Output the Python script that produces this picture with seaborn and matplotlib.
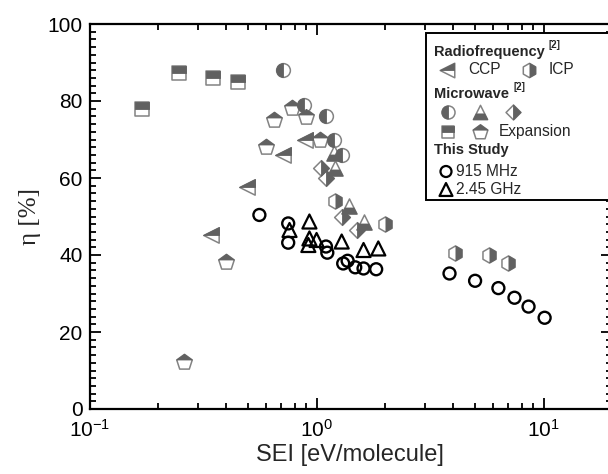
import matplotlib
matplotlib.use("Agg")
import matplotlib.pyplot as plt
from matplotlib.markers import MarkerStyle
from matplotlib.patches import Rectangle
from matplotlib.ticker import MultipleLocator, LogLocator, NullFormatter
import seaborn as sns

# ---- data: SEI [eV/molecule] and energy efficiency eta [%] ----
ccp_sei = [0.343, 0.494, 0.714, 0.89]
ccp_eta = [45.1, 57.6, 66.0, 70.0]

icp_sei = [1.21, 2.0, 4.07, 5.77, 7.0]
icp_eta = [54.0, 48.1, 40.6, 40.0, 38.0]

mw_circle_sei = [0.71, 0.88, 1.10, 1.19, 1.30]
mw_circle_eta = [88.0, 79.0, 76.1, 70.0, 66.0]

mw_tri_sei = [1.19, 1.21, 1.395, 1.61]
mw_tri_eta = [66.4, 62.5, 52.6, 48.7]

mw_diamond_sei = [1.05, 1.10, 1.30, 1.50]
mw_diamond_eta = [62.5, 59.9, 50.0, 46.6]

mw_square_sei = [0.170, 0.249, 0.349, 0.450]
mw_square_eta = [77.9, 87.2, 86.0, 85.0]

exp_sei = [0.26, 0.40, 0.60, 0.65, 0.778, 0.899, 1.04]
exp_eta = [12.1, 38.2, 68.1, 75.0, 78.1, 75.9, 70.0]

f915_sei = [0.56, 0.75, 0.75, 1.10, 1.115, 1.31, 1.37, 1.48, 1.61, 1.83,
            3.85, 4.99, 6.32, 7.44, 8.58, 10.1]
f915_eta = [50.4, 48.2, 43.2, 42.2, 40.6, 37.8, 38.5, 36.8, 36.5, 36.3,
            35.2, 33.3, 31.4, 28.9, 26.6, 23.7]

f245_sei = [0.76, 0.93, 0.93, 0.92, 1.0, 1.29, 1.61, 1.87]
f245_eta = [46.5, 48.7, 44.3, 42.6, 43.9, 43.5, 41.3, 41.7]

x_label = "SEI [eV/molecule]"
y_label = "η [%]"

# ---- style ----
sns.set_theme(style="ticks")
plt.rcParams["font.family"] = ["Liberation Sans", "DejaVu Sans"]

FILL = "#616161"
EDGE = "#838383"
# per-shape marker areas so the shapes read at a similar visual size
SIZES = {"s": 90, "p": 138, "<": 122, "o": 98, "D": 64, "^": 118, "h": 118}
OPEN_O = 74
OPEN_T = 102

W, H = 608, 474
fig = plt.figure(figsize=(W / 100, H / 100), dpi=100)
# axes placed in pixel terms; the right-hand end runs slightly past the canvas
ax_l, ax_r, ax_t, ax_b = 89.5, 612.0, 24.0, 409.0
ax = fig.add_axes([ax_l / W, 1 - ax_b / H, (ax_r - ax_l) / W, (ax_b - ax_t) / H])


def half_filled(x, y, marker, fill, z):
    # white outlined marker underneath, half-filled copy on top
    s = SIZES[marker]
    sns.scatterplot(x=x, y=y, ax=ax, marker=MarkerStyle(marker), s=s,
                    facecolor="white", edgecolor=EDGE, linewidth=1.1, zorder=z)
    sns.scatterplot(x=x, y=y, ax=ax, marker=MarkerStyle(marker, fillstyle=fill),
                    s=s, color=FILL, facecolor=FILL, edgecolor=FILL,
                    linewidth=0.6, zorder=z + 0.5)


half_filled(mw_square_sei, mw_square_eta, "s", "top", 3)
half_filled(exp_sei, exp_eta, "p", "top", 3)
half_filled(ccp_sei, ccp_eta, "<", "top", 3)
half_filled(mw_circle_sei, mw_circle_eta, "o", "left", 3)
half_filled(mw_diamond_sei, mw_diamond_eta, "D", "right", 3)
half_filled(mw_tri_sei, mw_tri_eta, "^", "bottom", 3)
half_filled(icp_sei, icp_eta, "h", "right", 3)

sns.scatterplot(x=f915_sei, y=f915_eta, ax=ax, marker="o", s=OPEN_O,
                facecolor="none", edgecolor="black", linewidth=1.7, zorder=5)
sns.scatterplot(x=f245_sei, y=f245_eta, ax=ax, marker="^", s=OPEN_T,
                facecolor="none", edgecolor="black", linewidth=1.6, zorder=5)

# ---- axes ----
ax.set_xscale("log")
ax.set_xlim(0.1, 20)
ax.set_ylim(0, 100)
ax.yaxis.set_major_locator(MultipleLocator(20))
ax.yaxis.set_minor_locator(MultipleLocator(2))
ax.xaxis.set_major_locator(LogLocator(base=10))
ax.xaxis.set_minor_locator(LogLocator(base=10, subs=range(2, 10)))
ax.xaxis.set_minor_formatter(NullFormatter())
ax.tick_params(which="both", direction="in", top=True, right=True,
               width=1.3, colors="black", labelsize=15)
ax.tick_params(axis="y", pad=5)
ax.tick_params(axis="x", pad=7)
ax.tick_params(which="major", length=8)
ax.tick_params(which="minor", length=4.5)
for sp in ax.spines.values():
    sp.set_linewidth(1.6)
    sp.set_color("black")

ax.set_xlabel(x_label, fontsize=17)
ax.set_ylabel(y_label, fontsize=18, family=["Liberation Serif", "DejaVu Serif"])
ax.xaxis.set_label_coords((350 - ax_l) / (ax_r - ax_l), (ax_b - 444) / (ax_b - ax_t))
ax.yaxis.set_label_coords((41 - ax_l) / (ax_r - ax_l), 0.5)


# ---- legend, laid out in pixel positions ----
def P(px, py):
    return px / W, 1 - py / H


ft = fig.transFigure
ax.add_patch(Rectangle(P(426, 200), (640 - 426) / W, (200 - 33) / H,
                       transform=ft, facecolor="white", edgecolor="black",
                       linewidth=1.4, clip_on=False, zorder=10))


def key(px, py, marker, fill=None, open_black=False):
    x, y = P(px, py)
    if open_black:
        ax.scatter([x], [y], marker=marker,
                   s=(OPEN_O if marker == "o" else OPEN_T) * 0.85,
                   facecolor="none", edgecolor="black", linewidth=1.6,
                   transform=ft, clip_on=False, zorder=11)
        return
    s = SIZES[marker] * 0.9
    ax.scatter([x], [y], marker=MarkerStyle(marker), s=s,
               facecolor="white", edgecolor=EDGE, linewidth=1.1,
               transform=ft, clip_on=False, zorder=11)
    ax.scatter([x], [y], marker=MarkerStyle(marker, fillstyle=fill), s=s,
               facecolor=FILL, edgecolor=FILL, linewidth=0.6,
               transform=ft, clip_on=False, zorder=11.5)


def label(px, py, s, bold=False, size=11.2):
    return fig.text(*P(px, py), s, ha="left", va="center", fontsize=size,
                    fontweight="bold" if bold else "normal", zorder=12)


renderer = fig.canvas.get_renderer()


def with_ref(px, py, s):
    # bold heading followed by a small bold reference mark
    t = label(px, py, s, bold=True, size=10.5)
    right = t.get_window_extent(renderer).x1
    fig.text(right / W + 4 / W, 1 - (py - 7) / H, "[2]", ha="left", va="center",
             fontsize=7, fontweight="bold", zorder=12)


with_ref(434, 52, "Radiofrequency")
key(447, 70, "<", "top")
label(468, 70, "CCP")
key(529, 70, "h", "right")
label(549, 70, "ICP")

with_ref(434, 94, "Microwave")
key(448, 112, "o", "left")
key(480, 112, "^", "bottom")
key(513, 112, "D", "right")
key(448, 131.5, "s", "top")
key(480, 131.5, "p", "top")
label(499, 131.5, "Expansion")

label(434, 150, "This Study", bold=True, size=10.5)
key(446, 171.5, "o", open_black=True)
label(456, 171.5, "915 MHz")
key(446, 189.5, "^", open_black=True)
label(456, 189.5, "2.45 GHz")

fig.savefig("out.png", dpi=100)
